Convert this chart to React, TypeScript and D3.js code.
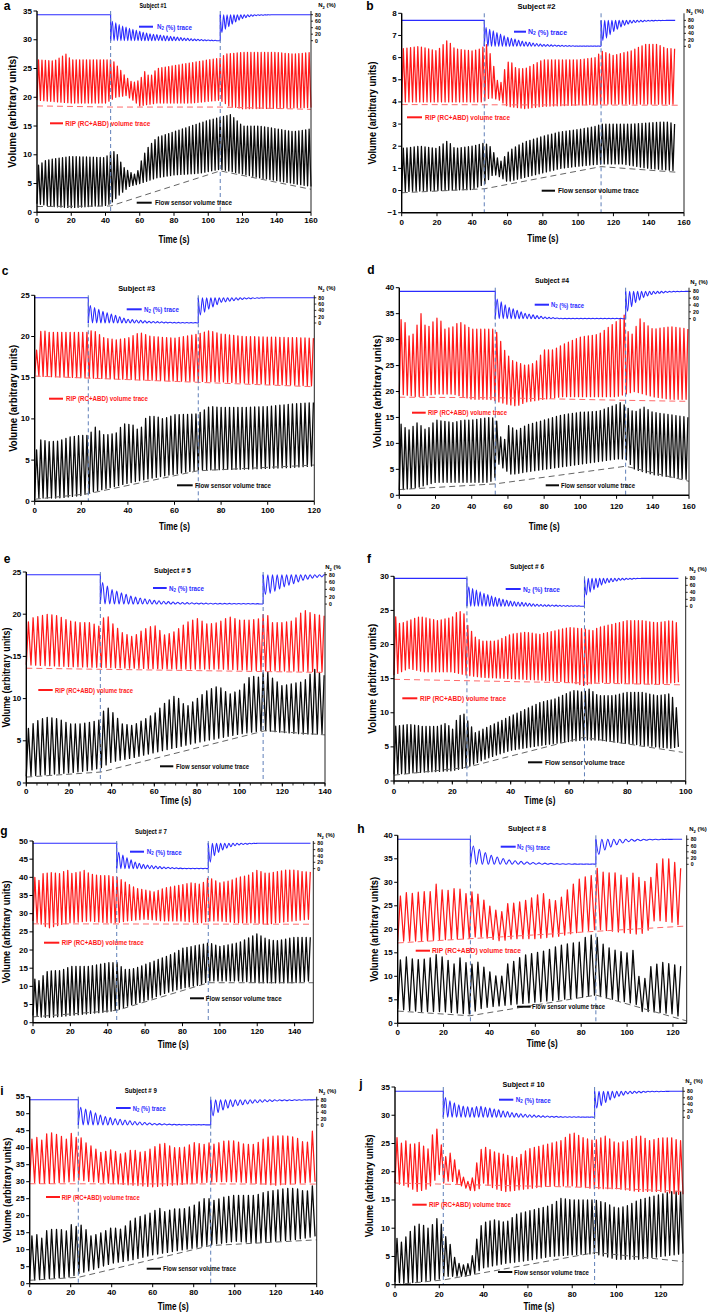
import React from 'react';
import * as d3 from 'd3';

type Pt = [number, number];

// ---------------- Panel a : Subject #1 ----------------
const aRedPeak: Pt[] = [[0,26.5],[10,26.3],[17,27.5],[20,26.5],[40,26.5],[44,26.5],[48,25],[52,23.5],[56,22.5],[60,23],[63,24.5],[66,23.5],[70,25],[80,25.5],[90,26],[100,26.5],[107,26.8],[110,27.5],[120,27.8],[140,27.8],[150,27.5],[160,27.8]];
const aRedTrough: Pt[] = [[0,19.5],[20,19],[40,19],[46,20],[52,20.3],[56,19.5],[60,18.5],[70,19],[90,19],[107,19.5],[112,18.5],[120,18],[160,18.2]];
const aRedBase: Pt[] = [[0,18.5],[43,18.3],[107,18.3],[160,17.9]];
const aBlackPeak: Pt[] = [[0,8],[5,9],[10,9.3],[20,9.7],[40,9.5],[44,10.8],[47,10],[50,8],[54,7],[58,6.5],[61,9],[64,11],[70,13],[80,14],[90,15],[100,16],[107,16.5],[113,17],[120,15],[130,15],[140,14.5],[150,14],[160,14.5]];
const aBlackTrough: Pt[] = [[0,1.5],[10,1],[20,0.8],[40,1.2],[43,1.5],[48,3],[54,4.5],[60,5],[70,6],[80,6.5],[95,6.8],[107,7.5],[115,7],[130,6],[140,5.5],[150,5],[160,4.5]];
const aBlackBase: Pt[] = [[0,1.0],[43,1.1],[107,7.2],[160,4.0]];
const aN2Wash: Pt[] = [[43,62],[50,45],[57,33],[65,22],[80,12],[90,6],[100,2],[107,1]];
const aN2In: Pt[] = [[107,20],[110,35],[115,55],[120,68],[125,75],[130,78],[140,80]];

// ---------------- Panel b : Subject #2 ----------------
const bRedPeak: Pt[] = [[0,6.4],[10,6.5],[20,6.3],[26,6.8],[30,6.4],[40,6.3],[45,6.4],[48,6.6],[51,6.0],[54,5.0],[56,4.8],[58,5.4],[61,5.9],[65,5.5],[70,5.5],[80,5.9],[100,5.9],[110,6.0],[113,6.3],[120,6.1],[130,6.3],[138,6.6],[145,6.6],[150,6.4],[155,6.4]];
const bRedTrough: Pt[] = [[0,4.0],[46,4.0],[50,4.2],[55,4.1],[60,3.8],[70,3.7],[80,3.8],[113,3.9],[155,3.9]];
const bRedBase: Pt[] = [[0,3.88],[157,3.85]];
const bBlackPeak: Pt[] = [[0,1.9],[10,2.0],[20,1.9],[26,2.25],[30,1.9],[40,2.0],[47,2.15],[50,2.0],[53,1.6],[56,1.3],[58,1.5],[61,1.8],[65,2.0],[70,2.2],[80,2.45],[90,2.65],[100,2.75],[110,2.9],[113,3.0],[130,3.0],[140,3.05],[150,3.1],[155,3.0]];
const bBlackTrough: Pt[] = [[0,-0.05],[20,0],[40,0.05],[47,0.3],[52,0.75],[56,0.6],[60,0.4],[70,0.6],[80,0.8],[90,1.0],[100,1.1],[113,1.2],[125,1.2],[140,1.0],[155,0.9]];
const bBlackBase: Pt[] = [[0,-0.1],[47,0.08],[113,1.08],[157,0.82]];
const bN2Wash: Pt[] = [[47,60],[55,40],[60,28],[70,14],[80,6],[90,3],[100,1],[113,1]];
const bN2In: Pt[] = [[113,15],[116,25],[120,45],[125,62],[130,72],[140,78],[150,80]];

// ---------------- Panel c : Subject #3 ----------------
const cRedPeak: Pt[] = [[0,17],[1.5,19.5],[3,21],[5,20.5],[20,20.5],[23,20.5],[25,20.8],[30,19.8],[35,19.6],[40,19.8],[45,20.5],[50,20],[60,19.8],[70,20.3],[75,20.7],[80,20.3],[90,20],[120,19.8]];
const cRedTrough: Pt[] = [[0,15.2],[20,15],[40,14.8],[60,14.6],[80,14.5],[100,14.2],[120,14.0]];
const cRedBase: Pt[] = [[0,15.2],[120,13.9]];
const cBlackPeak: Pt[] = [[0,5.7],[3,7.7],[5,7.2],[10,7.3],[15,7.8],[20,8],[23,8],[26,9],[30,8],[35,8.3],[38,9.4],[42,9.3],[45,8.5],[48,10.3],[52,10.3],[55,10],[60,10.5],[70,10.6],[75,11.5],[80,11.4],[90,11.4],[100,11.5],[110,11.8],[120,12]];
const cBlackTrough: Pt[] = [[0,0.4],[10,0.4],[20,0.7],[23,1.0],[30,1.5],[40,2.2],[50,2.8],[60,3.3],[70,3.8],[90,3.9],[100,4.0],[110,4.1],[120,4.3]];
const cBlackBase: Pt[] = [[0,0.25],[23,0.92],[70,3.7],[120,4.4]];
const cN2Wash: Pt[] = [[23,58],[30,35],[40,12],[50,5],[60,2],[70,1]];
const cN2In: Pt[] = [[70,20],[75,45],[80,65],[90,76],[100,80]];

// ---------------- Panel d : Subject #4 ----------------
const dRedPeak: Pt[] = [[0,34],[3,33.5],[6,30],[9,32],[12,35],[15,32],[20,34],[22,34.3],[25,32],[30,32.5],[33,33.5],[40,32],[50,32],[53,32],[55,30.5],[58,28],[62,26],[66,25.5],[70,25],[75,25.5],[80,28],[85,28],[90,29],[100,30.5],[110,31],[118,33],[122,34],[125,35],[127,30],[130,32],[133,34],[136,33],[140,32],[150,32.5],[160,32]];
const dRedTrough: Pt[] = [[0,19.5],[10,19],[20,19.5],[30,19.5],[40,18.5],[50,18.5],[55,18],[60,17.5],[65,17.2],[70,18],[80,18.5],[90,19],[120,19],[125,19.5],[130,20],[140,19],[150,18.5],[160,18.5]];
const dRedBase: Pt[] = [[0,18.9],[53,18.8],[125,18.3],[160,18.1]];
const dBlackPeak: Pt[] = [[0,14],[5,12.5],[10,14],[15,12.5],[20,14.5],[30,14],[35,14.5],[40,14.5],[50,15],[53,14.8],[55,13.5],[57,9],[60,13.5],[65,12.5],[70,13.5],[80,14.5],[90,15.5],[100,16],[110,16.2],[120,17.5],[123,18],[125,17],[130,16],[135,17],[140,16],[150,15.5],[160,15]];
const dBlackTrough: Pt[] = [[0,1],[10,1.5],[20,2.5],[50,2.5],[53,3.5],[55,6],[58,5],[62,4],[70,4.5],[80,5],[90,5.5],[100,6],[110,6.5],[120,7],[125,7],[130,5],[140,4],[150,3.5],[160,3]];
const dBlackBase: Pt[] = [[0,1.1],[53,2.2],[125,5.6],[160,2.7]];
const dN2Wash: Pt[] = [[53,62],[60,35],[70,15],[80,5],[90,1],[125,1]];
const dN2In: Pt[] = [[125,15],[130,45],[135,62],[140,72],[150,78],[160,80]];

// ---------------- Panel e : Subject # 5 ----------------
const eRedPeak: Pt[] = [[0,18.7],[2,19.5],[5,19.7],[10,20],[15,19.8],[20,19.2],[25,19],[30,19],[35,18.5],[37,20.3],[40,19],[45,17.8],[50,17.3],[55,18.2],[60,18.7],[65,17.5],[70,18],[75,19],[80,19.5],[85,18.8],[90,19],[95,19.7],[100,19.3],[105,19.3],[110,19.5],[112,20.4],[115,19],[120,19],[125,19.2],[130,20.5],[135,20],[140,19.8]];
const eRedTrough: Pt[] = [[0,14],[20,13.8],[35,13.7],[50,13.6],[70,13.5],[90,13.5],[112,13.3],[140,13.2]];
const eRedBase: Pt[] = [[0,13.6],[140,13.1]];
const eBlackPeak: Pt[] = [[0,6.2],[3,7],[6,7.5],[10,7.8],[15,7.6],[20,7],[25,7],[30,7.2],[35,7.5],[37,9.2],[40,8.5],[45,7],[50,6.8],[55,7.5],[60,8.2],[65,9.5],[70,10.4],[75,9],[80,10],[85,11],[90,11.5],[95,10.5],[100,11],[105,12.7],[110,12.5],[112,13.6],[115,12.5],[120,11.5],[125,11.8],[130,12],[135,13.5],[140,12.7]];
const eBlackTrough: Pt[] = [[0,0.8],[10,1],[20,1.2],[30,1.5],[35,1.8],[40,2.5],[50,3],[60,3.6],[70,4.2],[80,4.8],[90,5.3],[100,5.8],[110,6.2],[112,6.2],[120,6],[130,5.8],[140,5.8]];
const eBlackBase: Pt[] = [[0,0.7],[35,1.3],[112,6.2],[140,5.7]];
const eN2Wash: Pt[] = [[35,62],[40,40],[45,30],[50,20],[60,10],[70,5],[80,3],[90,2],[112,1]];
const eN2In: Pt[] = [[111,25],[115,30],[120,45],[125,55],[130,65],[135,72],[140,75]];

// ---------------- Panel f : Subject # 6 ----------------
const fRedPeak: Pt[] = [[0,24.5],[2,23],[5,23.5],[8,24],[10,24],[15,23.5],[20,24],[22,25],[24,24.5],[25,23],[28,21],[30,20.5],[35,20.5],[40,21.5],[45,21.8],[50,21.5],[55,22],[60,22.5],[65,22.3],[68,22],[70,22.5],[75,23],[80,23.5],[85,23.5],[90,23.2],[95,23.5],[98,23]];
const fRedTrough: Pt[] = [[0,15.5],[5,16.5],[10,16],[20,16],[25,15.5],[30,15.2],[40,15],[50,14.8],[60,14.5],[65,14],[70,14.5],[80,14.3],[90,14.2],[98,14.5]];
const fRedBase: Pt[] = [[0,14.9],[98,14.1]];
const fBlackPeak: Pt[] = [[0,8],[5,8.3],[10,8],[15,8],[18,8.5],[20,7.5],[22,9.5],[24,9.8],[25,9],[28,7],[30,7.5],[35,8.5],[40,9.5],[45,10.5],[50,11.5],[55,12],[60,13],[62,13.3],[65,13],[67,13.5],[70,12.5],[75,12.5],[80,13],[85,13],[90,12.5],[95,12.8],[97,10.5]];
const fBlackTrough: Pt[] = [[0,1],[10,1.3],[20,1.5],[25,2],[30,3],[35,3.8],[40,4.5],[50,5.2],[60,5.8],[65,6],[70,6],[80,5.5],[90,5],[95,4.8],[97,5]];
const fBlackBase: Pt[] = [[0,0.85],[25,2],[65,6.4],[99,4.2]];
const fN2Wash: Pt[] = [[25,58],[30,40],[35,25],[40,15],[50,5],[60,2],[65,1]];
const fN2In: Pt[] = [[65,27],[68,45],[72,65],[78,75],[85,80]];

// ---------------- Panel g : Subject # 7 ----------------
const gRedPeak: Pt[] = [[0,40.5],[3,39],[5,41],[10,41.3],[15,41],[18,42.3],[20,41],[25,41.5],[28,42],[30,41],[35,40.5],[40,40.5],[45,40],[50,38.5],[55,37],[60,36.5],[65,36],[70,37],[75,37.5],[80,38],[85,38.5],[90,38],[94,40],[100,38.5],[105,39],[110,40],[115,40.5],[120,42],[125,41],[130,41.5],[135,42],[140,42],[145,41.5],[148,41.5]];
const gRedTrough: Pt[] = [[0,28],[5,27],[8,26],[15,27],[20,27.5],[30,28],[40,27.5],[45,27.5],[50,28],[60,28.5],[70,28],[80,28],[90,27.5],[94,28],[100,28],[110,27.5],[120,27.5],[125,27],[130,27.5],[148,28.5]];
const gRedBase: Pt[] = [[0,27.2],[150,27.1]];
const gBlackPeak: Pt[] = [[0,13],[2,11],[4,12],[7,14],[10,14.3],[15,14.3],[20,15.5],[25,15.5],[30,15.5],[35,16],[40,16.5],[45,16.5],[48,15],[50,14.5],[55,15],[60,16],[65,17],[70,18],[75,19],[80,20.5],[85,21],[90,21.5],[94,22],[100,21],[110,22],[120,24.5],[125,23],[130,22.5],[140,23.5],[148,23.5]];
const gBlackTrough: Pt[] = [[0,2],[5,1.5],[10,1.5],[20,2],[30,2.5],[40,3],[45,3.5],[50,4.5],[60,6],[70,8],[80,9.5],[90,10.5],[94,11.5],[100,11.5],[110,11.5],[120,11],[130,11],[140,11],[148,11.5]];
const gBlackBase: Pt[] = [[0,1.6],[45,3.4],[94,11.0],[150,11.0]];
const gN2Wash: Pt[] = [[45,55],[50,35],[55,20],[60,12],[70,5],[80,1],[94,1]];
const gN2In: Pt[] = [[94,12],[97,40],[100,55],[105,68],[110,75],[120,80]];

// ---------------- Panel h : Subject # 8 ----------------
const hRedPeak: Pt[] = [[0,26.5],[3,28],[5,27.5],[10,28],[15,28],[17,29.8],[20,28],[25,28.7],[28,28.5],[30,27.5],[32,28],[35,27.5],[40,25],[43,24],[45,23.5],[48,25.5],[50,25.5],[55,26],[60,27],[63,28],[65,26.5],[70,26],[75,29],[80,31],[85,31.5],[87,33],[90,32],[95,32],[100,31],[104,32.5],[106,30],[110,30.5],[112,33.5],[115,35],[120,35],[122,33]];
const hRedTrough: Pt[] = [[0,17.5],[10,17.5],[20,17.8],[30,18],[35,18.5],[40,18],[45,17.5],[50,18],[60,18],[70,18.5],[80,19.5],[87,20],[95,19.5],[104,19],[106,19],[110,20],[112,22],[120,21.5],[122,21]];
const hRedBase: Pt[] = [[0,17.1],[126,20.7]];
const hBlackPeak: Pt[] = [[0,13],[3,14.3],[5,13.8],[10,13.5],[15,14],[17,14.7],[20,14],[25,12.5],[27,14],[30,12.8],[32,12.5],[35,13],[40,11],[43,10],[45,9.5],[47,12.5],[50,13],[55,14.5],[60,15],[65,15.5],[70,16.5],[75,17],[80,17.3],[83,19],[86,18.5],[88,18],[90,16.5],[95,15.5],[100,15],[104,15.8],[105,10],[108,9.5],[110,12],[115,13],[120,12.5],[125,12]];
const hBlackTrough: Pt[] = [[0,3],[10,2.5],[20,2.5],[30,2],[32,2],[35,3],[40,3.5],[50,4],[60,4.5],[70,5],[80,5.5],[86,6],[90,5.5],[100,4.5],[104,4],[105,2.5],[110,2.5],[120,2],[125,1]];
const hBlackBase: Pt[] = [[0,2.6],[31.5,1.6],[86.5,6.0],[126,0.5]];
const hN2Wash: Pt[] = [[32,62],[35,50],[40,30],[45,20],[50,12],[60,5],[70,2],[80,1],[86,1]];
const hN2In: Pt[] = [[86.5,25],[90,45],[95,62],[100,72],[110,78],[120,80]];

// ---------------- Panel i : Subject # 9 ----------------
const iRedPeak: Pt[] = [[0,42],[3,43.5],[5,41.5],[8,44],[10,44.5],[15,43.5],[18,42.5],[20,44.5],[22,42.5],[24,44],[26,42],[30,40.5],[35,38.5],[40,39.5],[45,38],[50,39.5],[55,38.5],[60,40],[65,41.5],[70,40],[75,40],[80,41.5],[85,41],[88,41.5],[90,41],[95,42],[100,42],[105,41],[110,41],[115,43],[120,43.5],[125,43.5],[130,43],[135,41],[138,45]];
const iRedTrough: Pt[] = [[0,30],[5,29.5],[10,29.5],[20,30],[24,30.5],[30,30],[40,29.5],[50,29],[60,28.5],[70,29],[80,29.5],[90,30],[100,30],[110,29.5],[120,29],[130,29.5],[140,30]];
const iRedBase: Pt[] = [[0,29.4],[140,29.3]];
const iBlackPeak: Pt[] = [[0,13.5],[3,15],[5,12.5],[8,15.5],[10,16],[15,16],[18,15.5],[20,17.5],[22,16.5],[24,17.5],[26,17],[30,14],[35,15],[40,16.5],[45,16],[50,19],[55,20],[60,21],[63,22.5],[65,21],[70,22],[75,22],[80,23],[85,25],[88,25],[90,24.5],[95,25.5],[100,26],[105,26],[110,26],[115,27],[120,27.5],[125,28],[130,28],[135,27],[139,29.5]];
const iBlackTrough: Pt[] = [[0,1],[10,1.5],[20,2],[24,3],[30,4],[40,6],[50,7],[60,8.5],[70,9.5],[80,10.5],[88,11.5],[95,12],[100,12.5],[110,12],[120,12.5],[130,13],[140,14]];
const iBlackBase: Pt[] = [[0,1.0],[24,1.9],[88,11.2],[140,12.9]];
const iN2Wash: Pt[] = [[24,58],[30,45],[35,30],[40,22],[50,12],[60,5],[70,2],[80,1],[88,1]];
const iN2In: Pt[] = [[88,22],[92,40],[95,50],[100,60],[110,70],[120,76],[130,78],[140,80]];

// ---------------- Panel j : Subject # 10 ----------------
const jRedPeak: Pt[] = [[0,26.5],[3,25],[5,25.5],[8,24.5],[10,25.5],[13,24.5],[15,24],[18,28],[19,27.5],[20,27],[22,22],[24,23.5],[26,23],[28,21],[30,19.5],[32,18.5],[34,18],[36,20],[38,23.5],[40,24.5],[45,23.5],[50,23],[55,22.5],[60,24],[65,24.5],[70,25],[75,25.5],[80,27],[85,26],[90,25.5],[93,26],[95,26.3],[100,25],[105,25.5],[110,26.5],[115,25.5],[120,26],[125,26],[128,25.5]];
const jRedTrough: Pt[] = [[0,18],[5,17.5],[10,16.5],[15,17],[20,19.5],[22,18],[25,18.5],[30,17.5],[35,16.5],[38,17],[40,18],[45,17],[50,16.5],[60,17],[70,17.5],[80,17.5],[90,17],[100,17],[110,16.5],[120,16.5],[128,16]];
const jRedBase: Pt[] = [[0,18],[22,17.8],[90.5,17.2],[130,16.5]];
const jBlackPeak: Pt[] = [[0,8.5],[3,7.5],[5,8.5],[8,10],[10,10.8],[13,10.5],[15,10],[18,11],[20,12.5],[22,8.5],[24,8.5],[26,5.5],[28,4],[30,3.5],[32,3.5],[34,4],[36,6.5],[38,10],[40,11],[45,11.5],[50,11],[55,12.5],[60,13],[65,13.5],[70,14],[75,15.3],[80,15],[85,15],[90,15],[95,14.5],[100,13.5],[105,14],[110,15],[115,15.5],[120,16],[125,16.5],[130,16.5]];
const jBlackTrough: Pt[] = [[0,0.5],[5,0.2],[10,0.5],[15,0.7],[20,1],[22,1.5],[25,1.5],[28,1.5],[32,1.5],[36,2],[40,3],[50,3.8],[60,4.3],[70,5],[80,5.3],[90,5.5],[100,4.5],[110,4.5],[120,5],[130,5.5]];
const jBlackBase: Pt[] = [[0,0],[22,0.85],[90.5,5.7],[130,4.1]];
const jN2Wash: Pt[] = [[22,65],[25,50],[30,35],[35,30],[38,35],[45,25],[55,12],[65,5],[75,2],[85,1],[90,1]];
const jN2In: Pt[] = [[90.5,26],[93,35],[96,50],[100,62],[105,72],[115,78],[125,80]];

// ---------------- shared per-panel values ----------------
const letters = ['a','b','c','d','e','f','g','h','i','j'];
const subjects = ['Subject #1','Subject #2','Subject #3','Subject #4','Subject # 5','Subject # 6','Subject # 7','Subject # 8','Subject # 9','Subject # 10'];
const xMaxes = [160,160,120,160,140,100,150,126,140,130];
const xTickMaxes = [160,160,120,160,140,100,140,120,140,120];
const yMins = [0,-1,0,0,0,0,0,0,0,0];
const yMaxes = [35,8,25,40,25,30,50,40,55,35];
const ySteps = [5,1,5,5,5,5,5,5,5,5];
const switchOn = [43,46.8,23,53,34.7,25,44.8,31.7,23.7,21.8];
const switchOff = [107,113,70.2,125,111,65.3,93.8,86.4,88.3,90.1];
const breathPeriods = [2.0,2.05,1.8,2.2,2.2,1.3,2.2,2.6,2.4,2.0];
const traceEnds = [160,155,120,160,140,97.5,148.5,124,140,130];
const n2At80 = [34.36,7.68,24.7,39.3,24.68,29.7,49.37,39.15,54.1,34.24];
const n2At0 = [29.84,6.51,21.64,34.03,21.2,25.6,42.4,33.83,46.7,29.64];
const n2Ticks = [0,20,40,60,80];
const minorXStep = [0,0,0,0,5,5,0,0,0,0];

const redPeaks = [aRedPeak,bRedPeak,cRedPeak,dRedPeak,eRedPeak,fRedPeak,gRedPeak,hRedPeak,iRedPeak,jRedPeak];
const redTroughs = [aRedTrough,bRedTrough,cRedTrough,dRedTrough,eRedTrough,fRedTrough,gRedTrough,hRedTrough,iRedTrough,jRedTrough];
const redBases = [aRedBase,bRedBase,cRedBase,dRedBase,eRedBase,fRedBase,gRedBase,hRedBase,iRedBase,jRedBase];
const blackPeaks = [aBlackPeak,bBlackPeak,cBlackPeak,dBlackPeak,eBlackPeak,fBlackPeak,gBlackPeak,hBlackPeak,iBlackPeak,jBlackPeak];
const blackTroughs = [aBlackTrough,bBlackTrough,cBlackTrough,dBlackTrough,eBlackTrough,fBlackTrough,gBlackTrough,hBlackTrough,iBlackTrough,jBlackTrough];
const blackBases = [aBlackBase,bBlackBase,cBlackBase,dBlackBase,eBlackBase,fBlackBase,gBlackBase,hBlackBase,iBlackBase,jBlackBase];
const n2Washouts = [aN2Wash,bN2Wash,cN2Wash,dN2Wash,eN2Wash,fN2Wash,gN2Wash,hN2Wash,iN2Wash,jN2Wash];
const n2Washins = [aN2In,bN2In,cN2In,dN2In,eN2In,fN2In,gN2In,hN2In,iN2In,jN2In];

// ---------------- layout (pixels) ----------------
const boxes = [
  {l:37,r:311,t:11,b:212.3},
  {l:401.7,r:684,t:13.3,b:212.7},
  {l:34.7,r:314.3,t:295.3,b:501.3},
  {l:399.3,r:689,t:287.7,b:495.3},
  {l:26.3,r:325,t:572,b:783},
  {l:394,r:685.7,t:576.3,b:781},
  {l:33,r:313.3,t:841,b:1022.7},
  {l:397.7,r:686.7,t:835.3,b:1023.3},
  {l:29.7,r:316.7,t:1096.7,b:1283.7},
  {l:395,r:683,t:1087,b:1284.7},
];
const letterPos = [[7,6],[370,6],[5,271],[371,270],[7,559],[369,559],[4,831],[361,829],[2,1091],[361,1084]];
const titlePos = [[153,5],[536.5,6.7],[136.7,288.7],[552,280.3],[172.5,570.7],[527,566.7],[151,831],[527,828.7],[140.8,1090.7],[523.5,1084]];
const titleW = [27,38,37,34,37,34,32,38,32,42];
const n2LabelPos = [[327,5],[695,11],[326.7,288],[699,282],[333,567.3],[698,569],[326,835.3],[698,829.3],[327.5,1091.3],[694,1081.3]];
const legBlue = [[139,153,26.7,157],[514,526,31.7,528],[126.7,141.7,309.3,144],[534.7,549,304.7,551],[153,166.7,588,169],[505.7,520.7,589,523],[130,144,851.7,146.7],[500.7,515.7,846.7,517],[116,130.7,1108,132.7],[499,513.3,1099.7,515.7]];
const legRed = [[50,63,123.3,65.3],[407,422,117.3,425],[49,63,398.7,66],[412,425.7,412.7,428],[38.3,52.7,690,55],[402.3,417.3,698.3,420],[44,59.3,942.7,61.7],[415.7,430,950.7,432],[46,60,1197,61.7],[412.3,426.7,1204.7,429]];
const legBlack = [[136.7,151.7,202.7,155],[541.7,555,190.7,558],[177,192.7,485.3,195],[545.7,559,485.3,561],[160,173.3,766.3,176],[528,542.3,762.3,545],[190,204,998.3,205.7],[517,530.7,1006.7,532],[146.7,161,1268.7,163],[498,512.3,1272,514]];
const legW = [[35,85,77],[39,85,81],[35,82,76],[33,79,74],[35,78,73],[37,86,80],[35,82,76],[33,89,73],[33,78,73],[35,82,75]];
const tickLabelY = [220,222,510.3,506.3,791,791,1031.7,1032.7,1292,1294.7];
const timeLabelY = [239.3,238,526,526,800,800,1044.3,1043.3,1306,1306];
const yLabelX = [12.7,372.3,13.3,377.3,6.7,372.3,6,374,7.3,369];
const yLabelW = [112,103,107,113,100,110,103,105,105,103];

const FONT = 'Liberation Sans, Arial, Helvetica, sans-serif';
const RED = '#ff1a1a';
const BLUE = '#2b2bff';
const BLACK = '#0a0a0a';

const envelope = (pts: Pt[]) =>
  d3.scaleLinear().domain(pts.map(p => p[0])).range(pts.map(p => p[1])).clamp(true);

function breathTrace(end: number, P: number, peak: Pt[], trough: Pt[]): Pt[] {
  const fp = envelope(peak);
  const ft = envelope(trough);
  const out: Pt[] = [];
  const n = Math.floor(end / P);
  for (let k = 0; k <= n; k++) {
    const ta = k * P;
    out.push([ta, ft(ta)]);
    const tb = ta + 0.45 * P;
    if (tb <= end) out.push([tb, fp(tb)]);
  }
  return out;
}

function n2Trace(tOn: number, tOff: number, end: number, P: number, wash: Pt[], washin: Pt[]) {
  const fw = envelope(wash);
  const fi = envelope(washin);
  const pre: Pt[] = [[0, 80], [tOn, 80], [tOn, 0]];
  const mid: Pt[] = [[tOn, 0]];
  for (let k = 0; ; k++) {
    const tp = tOn + (k + 0.5) * P;
    const tt = tOn + (k + 1) * P;
    if (tt > tOff - 0.05) break;
    mid.push([tp, fw(tp)]);
    mid.push([tt, 0]);
  }
  mid.push([tOff, 0]);
  const jump: Pt[] = [[tOff, 0], [tOff, 80]];
  const post: Pt[] = [[tOff, 80]];
  for (let k = 0; ; k++) {
    const tt = tOff + (k + 0.5) * P;
    const tp = tOff + (k + 1) * P;
    if (tp > end - 0.05) break;
    post.push([tt, fi(tt)]);
    post.push([tp, 80]);
  }
  post.push([end, 80]);
  return { pre, mid, jump, post };
}

function Panel({ i }: { i: number }) {
  const bx = boxes[i];
  const x = d3.scaleLinear().domain([0, xMaxes[i]]).range([bx.l, bx.r]);
  const y = d3.scaleLinear().domain([yMins[i], yMaxes[i]]).range([bx.b, bx.t]);
  const yN2 = d3.scaleLinear().domain([0, 80]).range([y(n2At0[i]), y(n2At80[i])]);
  const line = d3.line<Pt>().x(d => x(d[0])).y(d => y(d[1]));
  const n2Line = d3.line<Pt>().x(d => x(d[0])).y(d => yN2(d[1]));
  const n2Smooth = d3.line<Pt>().x(d => x(d[0])).y(d => yN2(d[1])).curve(d3.curveMonotoneX);
  const P = breathPeriods[i];
  const end = traceEnds[i];
  const red = breathTrace(end, P, redPeaks[i], redTroughs[i]);
  const black = breathTrace(end, P, blackPeaks[i], blackTroughs[i]);
  const n2 = n2Trace(switchOn[i], switchOff[i], end, P, n2Washouts[i], n2Washins[i]);
  const xTicks = d3.range(0, xTickMaxes[i] + 0.001, 20);
  const xMinor = minorXStep[i] ? d3.range(0, xMaxes[i] + 0.001, minorXStep[i]) : [];
  const yTicks = d3.range(yMins[i], yMaxes[i] + 0.001, ySteps[i]);
  const [bl1, bl2, bly, blt] = legBlue[i];
  const [rl1, rl2, rly, rlt] = legRed[i];
  const [kl1, kl2, kly, klt] = legBlack[i];
  const cx = (bx.l + bx.r) / 2;
  const cy = (bx.t + bx.b) / 2;
  return (
    <g fontFamily={FONT} fontWeight="bold">
      {/* traces */}
      <path d={line(red) || ''} fill="none" stroke={RED} strokeWidth={1.25} strokeLinejoin="round" />
      <path d={line(black) || ''} fill="none" stroke={BLACK} strokeWidth={1.3} strokeLinejoin="round" />
      <path d={line(redBases[i]) || ''} fill="none" stroke="#ff6a6a" strokeWidth={1} strokeDasharray="6,4" />
      <path d={line(blackBases[i]) || ''} fill="none" stroke="#666" strokeWidth={1} strokeDasharray="6,4" />
      <path d={n2Line(n2.pre) || ''} fill="none" stroke={BLUE} strokeWidth={1.1} />
      <path d={n2Smooth(n2.mid) || ''} fill="none" stroke={BLUE} strokeWidth={1.1} />
      <path d={n2Line(n2.jump) || ''} fill="none" stroke={BLUE} strokeWidth={1.1} />
      <path d={n2Smooth(n2.post) || ''} fill="none" stroke={BLUE} strokeWidth={1.1} />
      {/* vertical switch lines */}
      {[switchOn[i], switchOff[i]].map((t, k) => (
        <line key={'sw' + k} x1={x(t)} x2={x(t)} y1={bx.t} y2={bx.b} stroke="#5f7fb8" strokeWidth={1} strokeDasharray="4,3" />
      ))}
      {/* axes */}
      <line x1={bx.l} x2={bx.l} y1={bx.t} y2={bx.b} stroke="#000" strokeWidth={1.4} />
      <line x1={bx.l} x2={bx.r} y1={bx.b} y2={bx.b} stroke="#000" strokeWidth={1.4} />
      <line x1={bx.r} x2={bx.r} y1={bx.t} y2={bx.b} stroke="#222" strokeWidth={1} />
      {yTicks.map(v => (
        <g key={'yt' + v}>
          <line x1={bx.l - 3.5} x2={bx.l} y1={y(v)} y2={y(v)} stroke="#000" strokeWidth={1} />
          <text x={bx.l - 5} y={y(v)} fontSize={8} textAnchor="end" dominantBaseline="central">{v < 0 ? '\u22121' : v}</text>
        </g>
      ))}
      {xMinor.map(v => (
        <line key={'xm' + v} x1={x(v)} x2={x(v)} y1={bx.b} y2={bx.b + 2.5} stroke="#000" strokeWidth={0.8} />
      ))}
      {xTicks.map(v => (
        <g key={'xt' + v}>
          <line x1={x(v)} x2={x(v)} y1={bx.b} y2={bx.b + 3.5} stroke="#000" strokeWidth={1} />
          <text x={x(v)} y={tickLabelY[i]} fontSize={8} textAnchor="middle" dominantBaseline="central">{v}</text>
        </g>
      ))}
      {n2Ticks.map(v => (
        <g key={'nt' + v}>
          <line x1={bx.r} x2={bx.r + 2} y1={yN2(v)} y2={yN2(v)} stroke="#000" strokeWidth={0.8} />
          <text x={bx.r + 4} y={yN2(v)} fontSize={5.2} dominantBaseline="central">{v}</text>
        </g>
      ))}
      {/* labels */}
      <text x={letterPos[i][0]} y={letterPos[i][1]} fontSize={12} textAnchor="middle" dominantBaseline="central">{letters[i]}</text>
      <text x={titlePos[i][0]} y={titlePos[i][1]} fontSize={7.5} textAnchor="middle" dominantBaseline="central" textLength={titleW[i]} lengthAdjust="spacingAndGlyphs">{subjects[i]}</text>
      <text x={n2LabelPos[i][0]} y={n2LabelPos[i][1]} fontSize={6} textAnchor="middle" dominantBaseline="central">N<tspan fontSize={4} dy={1.5}>2</tspan><tspan dy={-1.5}>{i === 4 ? ' (%' : ' (%)'}</tspan></text>
      <text x={cx} y={timeLabelY[i]} fontSize={10} textAnchor="middle" dominantBaseline="central" textLength={31} lengthAdjust="spacingAndGlyphs">Time (s)</text>
      <text transform={`translate(${yLabelX[i]},${cy}) rotate(-90)`} fontSize={10} textAnchor="middle" dominantBaseline="central" textLength={yLabelW[i]} lengthAdjust="spacingAndGlyphs">Volume (arbitrary units)</text>
      {/* legends */}
      <line x1={bl1} x2={bl2} y1={bly} y2={bly} stroke={BLUE} strokeWidth={2} />
      <text x={blt} y={bly} fontSize={7} fill={BLUE} dominantBaseline="central" textLength={legW[i][0]} lengthAdjust="spacingAndGlyphs">N<tspan fontSize={5} dy={1.5}>2</tspan><tspan dy={-1.5}> (%) trace</tspan></text>
      <line x1={rl1} x2={rl2} y1={rly} y2={rly} stroke={RED} strokeWidth={2} />
      <text x={rlt} y={rly} fontSize={7} fill={RED} dominantBaseline="central" textLength={legW[i][1]} lengthAdjust="spacingAndGlyphs">RIP (RC+ABD) volume trace</text>
      <line x1={kl1} x2={kl2} y1={kly} y2={kly} stroke={BLACK} strokeWidth={2} />
      <text x={klt} y={kly} fontSize={7} fill={BLACK} dominantBaseline="central" textLength={legW[i][2]} lengthAdjust="spacingAndGlyphs">Flow sensor volume trace</text>
    </g>
  );
}

export default function App() {
  return (
    <svg width={709} height={1312} style={{ position: 'absolute', left: 0, top: 0, background: '#fff' }}>
      <rect x={0} y={0} width={709} height={1312} fill="#fff" />
      {letters.map((_, i) => <Panel key={i} i={i} />)}
    </svg>
  );
}
